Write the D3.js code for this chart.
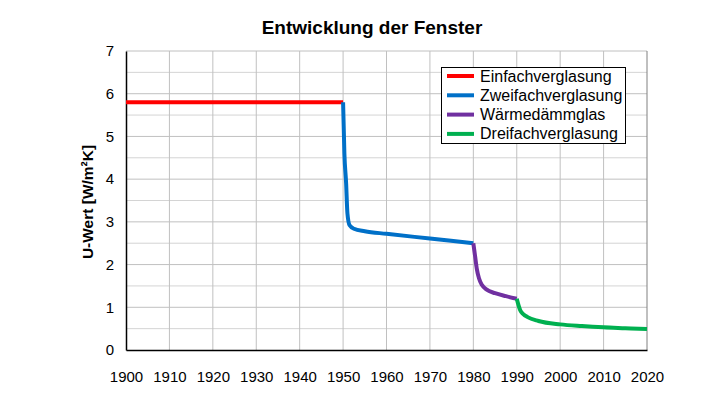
<!DOCTYPE html>
<html><head><meta charset="utf-8">
<script src="https://cdn.jsdelivr.net/npm/d3@7"></script>
<style>body{margin:0;background:#fff}svg{font-family:"Liberation Sans",Arial,sans-serif}</style>
</head><body><svg id="c" width="712" height="393"></svg>
<script>
const seriesNames = ["Einfachverglasung","Zweifachverglasung","Wärmedämmglas","Dreifachverglasung"];
const seriesColors = ["#ff0000","#0070c8","#7030a0","#00b050"];
const einfach = [[1900,5.8],[1950,5.8]];
const zweifach = [[1950,5.8],[1950.3,4.6],[1950.7,3.9],[1951,3.2],[1951.5,2.92],[1952.5,2.84],[1955,2.78],[1960,2.72],[1970,2.61],[1980,2.5]];
const waerme = [[1980,2.5],[1980.4,2.2],[1980.8,1.9],[1981.3,1.68],[1982,1.52],[1983,1.42],[1985,1.33],[1987.5,1.26],[1990,1.2]];
const dreifach = [[1990,1.2],[1990.4,1.05],[1990.8,0.93],[1991.5,0.84],[1992.5,0.77],[1995,0.68],[2000,0.6],[2005,0.56],[2010,0.53],[2015,0.51],[2020,0.49]];
const xTicks = [1900,1910,1920,1930,1940,1950,1960,1970,1980,1990,2000,2010,2020];
const yTicks = [0,1,2,3,4,5,6,7];
const yMinor = [0.5,1.5,2.5,3.5,4.5,5.5,6.5];
const series = [einfach, zweifach, waerme, dreifach];

const svg = d3.select("#c");
const L=126, R=647, T=51, B=350;
const x = d3.scaleLinear().domain([1900,2020]).range([L,R]);
const y = d3.scaleLinear().domain([0,7]).range([B,T]);

// grid
svg.append("g").selectAll("line").data(yMinor).join("line")
  .attr("x1",L).attr("x2",R).attr("y1",d=>y(d)).attr("y2",d=>y(d))
  .attr("stroke","#d4d4d4").attr("stroke-width",1);
svg.append("g").selectAll("line").data(yTicks.slice(1)).join("line")
  .attr("x1",L).attr("x2",R).attr("y1",d=>y(d)).attr("y2",d=>y(d))
  .attr("stroke","#c0c0c0").attr("stroke-width",1);
svg.append("g").selectAll("line").data(xTicks.slice(1)).join("line")
  .attr("x1",d=>x(d)).attr("x2",d=>x(d)).attr("y1",T).attr("y2",B)
  .attr("stroke",(d,i)=> d===2020?"#808080":"#c0c0c0").attr("stroke-width",1);

// axes
const xAxis = d3.axisBottom(x).tickValues(xTicks).tickSize(0).tickPadding(21).tickFormat(d3.format("d"));
const gx = svg.append("g").attr("transform",`translate(0,${B})`).call(xAxis);
gx.select(".domain").attr("stroke","#000").attr("stroke-width",1.5);
gx.selectAll("text").attr("font-size",15).attr("fill","#000").attr("font-family","Liberation Sans, Arial, sans-serif");
const yAxis = d3.axisLeft(y).tickValues(yTicks).tickSize(0).tickPadding(12).tickFormat(d3.format("d"));
const gy = svg.append("g").attr("transform",`translate(${L},0)`).call(yAxis);
gy.select(".domain").attr("stroke","#000").attr("stroke-width",1.5);
gy.selectAll("text").attr("font-size",15).attr("fill","#000").attr("font-family","Liberation Sans, Arial, sans-serif");

// lines
const line = d3.line().x(d=>x(d[0])).y(d=>y(d[1])).curve(d3.curveMonotoneX);
series.forEach((s,i)=>{
  svg.append("path").datum(s).attr("d",line).attr("fill","none")
    .attr("stroke",seriesColors[i]).attr("stroke-width",4).attr("stroke-linejoin","round");
});

// title and labels
svg.append("text").attr("x",372).attr("y",34).attr("text-anchor","middle")
  .attr("font-size",19).attr("font-weight","bold").text("Entwicklung der Fenster");
svg.append("text").attr("transform",`translate(93,202) rotate(-90)`).attr("text-anchor","middle")
  .attr("font-size",15.5).attr("font-weight","bold").text("U-Wert [W/m²K]");

// legend
const lg = svg.append("g");
lg.append("rect").attr("x",441.5).attr("y",67.5).attr("width",184).attr("height",76)
  .attr("fill","#fff").attr("stroke","#000").attr("stroke-width",1);
seriesNames.forEach((n,i)=>{
  const yy = 76 + i*19.3;
  lg.append("line").attr("x1",447).attr("x2",474).attr("y1",yy).attr("y2",yy)
    .attr("stroke",seriesColors[i]).attr("stroke-width",4);
  lg.append("text").attr("x",480).attr("y",yy+5.5).attr("font-size",16).text(n);
});
</script></body></html>
